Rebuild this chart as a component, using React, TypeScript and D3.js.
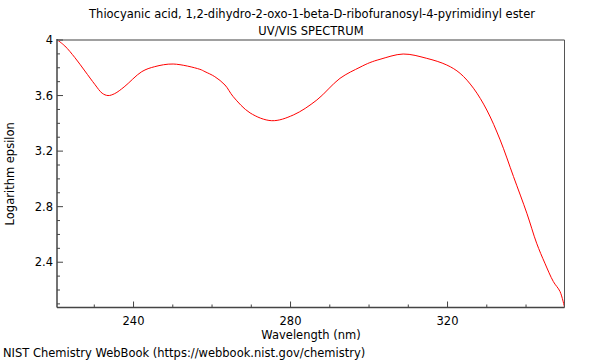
import React from "react";
import * as d3 from "d3";

const titleLines = [
  "Thiocyanic acid, 1,2-dihydro-2-oxo-1-beta-D-ribofuranosyl-4-pyrimidinyl ester",
  "UV/VIS SPECTRUM",
];
const xLabel = "Wavelength (nm)";
const yLabel = "Logarithm epsilon";
const footer = "NIST Chemistry WebBook (https://webbook.nist.gov/chemistry)";

const xMajorTicks = [240, 280, 320];
const xMinorTicks = [230, 250, 260, 270, 290, 300, 310, 330, 340];
const yMajorTicks = [2.4, 2.8, 3.2, 3.6, 4];
const yMinorTicks = [2.1, 2.2, 2.3, 2.5, 2.6, 2.7, 2.9, 3.0, 3.1, 3.3, 3.4, 3.5, 3.7, 3.8, 3.9];

const wavelength = [
  220.6, 222.5, 225.06, 227.6, 230.2, 232.0, 233.5, 235.2, 237.6, 242.1, 245.4, 250.1,
  256.9, 258.2, 260.7, 263.3, 265.4, 269.7, 275.2, 280.7, 286.7, 292.6, 297.7,
  300.2, 302.8, 308.7, 314.7, 319.8, 323.2, 326.6, 330.0, 333.4, 336.8, 340.2,
  342.7, 344.8, 346.95, 348.66, 349.8,
];
const logEpsilon = [
  4.0, 3.957, 3.873, 3.777, 3.678, 3.617, 3.6, 3.614, 3.662, 3.772, 3.808, 3.827,
  3.789, 3.772, 3.736, 3.676, 3.592, 3.475, 3.419, 3.46, 3.568, 3.724, 3.804,
  3.837, 3.861, 3.899, 3.868, 3.82, 3.76, 3.653, 3.496, 3.281, 3.017, 2.753,
  2.537, 2.393, 2.261, 2.189, 2.075,
];

const W = 600;
const H = 360;
const L = 57;
const R = 564.5;
const T = 40;
const B = 307.5;

export default function App() {
  const x = d3.scaleLinear().domain([220.5, 349.8]).range([L, R]);
  const y = d3.scaleLinear().domain([2.074, 4]).range([B, T]);
  const pts = wavelength.map((w, i) => [w, logEpsilon[i]] as [number, number]);
  const line = d3
    .line<[number, number]>()
    .x((d) => x(d[0]))
    .y((d) => y(d[1]))
    .curve(d3.curveCatmullRom.alpha(0.5));
  const font = "'DejaVu Sans', sans-serif";
  return (
    <svg
      width={W}
      height={H}
      style={{ position: "absolute", left: 0, top: 0, background: "#fff" }}
      fontFamily={font}
      fontSize={11.5}
    >
      <rect x={0} y={0} width={W} height={H} fill="#fff" />
      <text x={312} y={18} textAnchor="middle" fill="#000">
        {titleLines[0]}
      </text>
      <text x={311} y={35} textAnchor="middle" fill="#000">
        {titleLines[1]}
      </text>
      <clipPath id="plotclip">
        <rect x={L} y={T - 1} width={R - L} height={B - T + 2} />
      </clipPath>
      <path d={line(pts) || ""} fill="none" stroke="#ff0000" strokeWidth={1} clipPath="url(#plotclip)" />
      {/* frame */}
      <line x1={L} x2={R} y1={T} y2={T} stroke="#a0a0a0" strokeWidth={2} />
      <line x1={R} x2={R} y1={T} y2={B} stroke="#555" strokeWidth={1} />
      <line x1={L} x2={L} y1={T - 1} y2={B} stroke="#444" strokeWidth={1.5} />
      <line x1={L} x2={R} y1={B} y2={B} stroke="#444" strokeWidth={1.5} />
      {/* y ticks */}
      {yMajorTicks.map((t) => (
        <g key={"ym" + t}>
          <line x1={L} x2={L + 6} y1={y(t)} y2={y(t)} stroke="#444" strokeWidth={1} />
          <text x={L - 4} y={y(t) + 4} textAnchor="end" fill="#000">
            {String(t)}
          </text>
        </g>
      ))}
      {yMinorTicks.map((t) => (
        <line key={"yn" + t} x1={L} x2={L + 3} y1={y(t)} y2={y(t)} stroke="#444" strokeWidth={1} />
      ))}
      {/* x ticks */}
      {xMajorTicks.map((t) => (
        <g key={"xm" + t}>
          <line x1={x(t)} x2={x(t)} y1={B} y2={B - 6} stroke="#444" strokeWidth={1} />
          <text x={x(t)} y={325} textAnchor="middle" fill="#000">
            {String(t)}
          </text>
        </g>
      ))}
      {xMinorTicks.map((t) => (
        <line key={"xn" + t} x1={x(t)} x2={x(t)} y1={B} y2={B - 3} stroke="#444" strokeWidth={1} />
      ))}
      <text x={311} y={339} textAnchor="middle" fill="#000">
        {xLabel}
      </text>
      <text
        transform={`translate(14, ${(T + B) / 2}) rotate(-90)`}
        textAnchor="middle"
        fill="#000"
      >
        {yLabel}
      </text>
      <text x={3} y={357} fill="#000">
        {footer}
      </text>
    </svg>
  );
}
